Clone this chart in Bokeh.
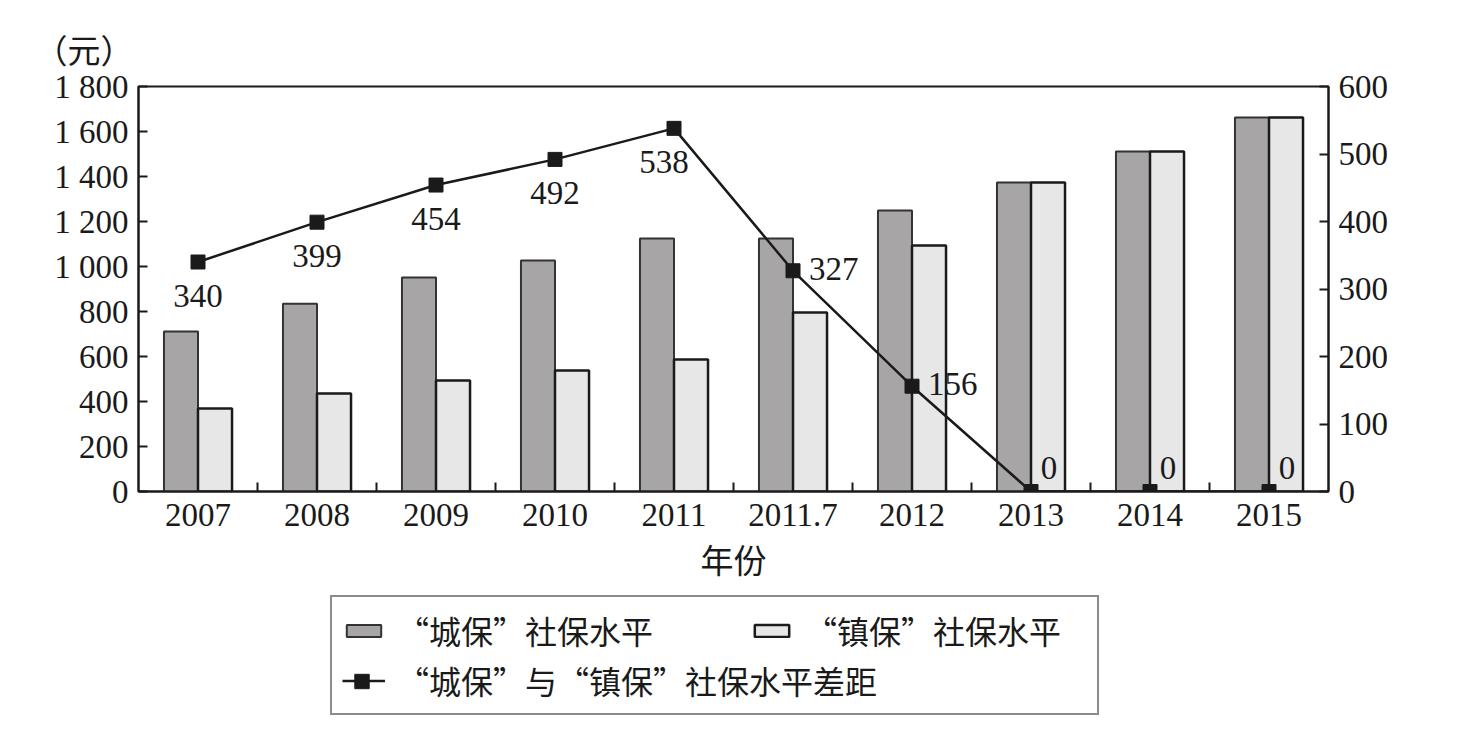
from bokeh.plotting import figure
from bokeh.layouts import column
from bokeh.models import (ColumnDataSource, Range1d, LinearAxis, FixedTicker,
                          Legend, LegendItem, Title)
from bokeh.transform import dodge
from bokeh.core.properties import value
from bokeh.embed import file_html
from bokeh.resources import INLINE

# ---------------- data ----------------
years = ["2007", "2008", "2009", "2010", "2011", "2011.7", "2012", "2013", "2014", "2015"]
chengbao = [711, 835, 951, 1027, 1124, 1124, 1249, 1373, 1511, 1662]   # “城保”社保水平 (元)
zhenbao = [369, 436, 493, 538, 587, 796, 1093, 1373, 1511, 1662]      # “镇保”社保水平 (元)
gap = [340, 399, 454, 492, 538, 327, 156, 0, 0, 0]                    # 差距 (元)
left_ticks = [0, 200, 400, 600, 800, 1000, 1200, 1400, 1600, 1800]
left_tick_labels = ["0", "200", "400", "600", "800", "1 000", "1 200", "1 400", "1 600", "1 800"]
right_ticks = [0, 100, 200, 300, 400, 500, 600]
label_place = ["below"] * 4 + ["below_left"] + ["right"] * 2 + ["upright"] * 3
legend_labels = ["“城保”社保水平", "“镇保”社保水平", "“城保”与“镇保”社保水平差距"]

# ---------------- style ----------------
NUM = "Liberation Serif"
CJK = "Noto Sans CJK SC"
DARK = "#a7a5a6"
LIGHT = "#e7e7e7"
INK = "#1a1a1a"
bar_a = dict(fill_color=DARK, line_color="#333333", line_width=2)
bar_b = dict(fill_color=LIGHT, line_color=INK, line_width=2.5)
line_s = dict(line_color=INK, line_width=2.5)
mark_s = dict(marker="square", size=14, fill_color=INK, line_color=INK)

idx = list(range(len(years)))
place_style = {"below": (0, 34, "center"), "below_left": (-10, 34, "center"),
               "right": (16, -2, "left"), "upright": (18, -24, "center")}
src = ColumnDataSource(dict(
    idx=idx, cheng=chengbao, zhen=zhenbao, gap=gap,
    txt=[str(v) for v in gap],
    dx=[place_style[k][0] for k in label_place],
    dy=[place_style[k][1] for k in label_place],
    al=[place_style[k][2] for k in label_place],
))

p = figure(width=1470, height=585, x_range=Range1d(-0.5, len(years) - 0.5),
           y_range=Range1d(0, 1800), output_backend="svg", toolbar_location=None,
           min_border_left=138, min_border_right=142, min_border_top=86,
           min_border_bottom=89)
p.extra_y_ranges = {"gap": Range1d(0, 600)}
p.xgrid.visible = False
p.ygrid.visible = False
p.outline_line_color = INK
p.outline_line_width = 2
p.background_fill_color = "white"
p.border_fill_color = "white"

bw = 0.286
p.vbar(x=dodge("idx", -bw / 2), top="cheng", width=bw, source=src, **bar_a)
p.vbar(x=dodge("idx", bw / 2), top="zhen", width=bw, source=src, **bar_b)
p.line(x="idx", y="gap", source=src, y_range_name="gap", **line_s)
p.scatter(x="idx", y="gap", source=src, y_range_name="gap", **mark_s)
p.text(x="idx", y="gap", text="txt", source=src, y_range_name="gap",
       x_offset="dx", y_offset="dy", text_align="al", text_baseline="middle",
       text_font=value(NUM), text_font_size="33px", text_color=INK)

# x axis
xa = p.xaxis[0]
xa.ticker = FixedTicker(ticks=idx, minor_ticks=[i + 0.5 for i in idx[:-1]])
xa.major_label_overrides = {i: y for i, y in zip(idx, years)}
xa.major_tick_in = 0
xa.major_tick_out = 0
xa.minor_tick_in = 9
xa.minor_tick_out = 0
xa.minor_tick_line_color = INK
xa.minor_tick_line_width = 2
xa.axis_line_color = INK
xa.axis_line_width = 2
xa.major_label_text_font = NUM
xa.major_label_text_font_size = "33px"
xa.major_label_text_color = INK
xa.major_label_standoff = 12
xa.axis_label = "年份"
xa.axis_label_text_font = CJK
xa.axis_label_text_font_size = "33px"
xa.axis_label_text_font_style = "normal"
xa.axis_label_text_color = INK
xa.axis_label_standoff = 6

# left / right axes
ya = p.yaxis[0]
ya.ticker = FixedTicker(ticks=left_ticks, minor_ticks=[])
ya.major_label_overrides = {t: l for t, l in zip(left_ticks, left_tick_labels)}
ra = LinearAxis(y_range_name="gap", ticker=FixedTicker(ticks=right_ticks, minor_ticks=[]))
p.add_layout(ra, "right")
for ax in (ya, ra):
    ax.major_tick_in = 9
    ax.major_tick_out = 0
    ax.minor_tick_in = 0
    ax.minor_tick_out = 0
    ax.major_tick_line_color = INK
    ax.major_tick_line_width = 2
    ax.axis_line_color = INK
    ax.axis_line_width = 2
    ax.major_label_text_font = NUM
    ax.major_label_text_font_size = "33px"
    ax.major_label_text_color = INK
    ax.major_label_standoff = 10

# unit title
p.add_layout(Title(text="（元）", align="left", offset=-104, standoff=27,
                   text_font=CJK, text_font_size="33px", text_font_style="normal",
                   text_color=INK), "above")

# ---------------- legend strip (own figure; its series renderers are hidden) ----------------
q = figure(width=1470, height=151, x_range=Range1d(-3, -2), y_range=Range1d(-3, -2),
           output_backend="svg", toolbar_location=None, x_axis_location=None,
           y_axis_location=None, min_border=0, outline_line_color=None)
q.xgrid.visible = False
q.ygrid.visible = False
s_a = q.vbar(x=dodge("idx", -bw / 2), top="cheng", width=bw, source=src, visible=False, **bar_a)
s_b = q.vbar(x=dodge("idx", bw / 2), top="zhen", width=bw, source=src, visible=False, **bar_b)
s_l = q.line(x="idx", y="gap", source=src, visible=False, **line_s)
s_m = q.scatter(x="idx", y="gap", source=src, visible=False, **mark_s)

common = dict(glyph_width=43, glyph_height=15, label_standoff=12, padding=10, margin=0,
              spacing=4, label_height=36, label_text_font=CJK,
              label_text_font_size="32px", label_text_color=INK,
              inactive_fill_alpha=0)
leg1 = Legend(items=[LegendItem(label=legend_labels[0], renderers=[s_a]),
                     LegendItem(label=legend_labels[2], renderers=[s_l])],
              location=(192, 21), orientation="vertical", label_width=690,
              border_line_color=INK, border_line_width=2, background_fill_color="white",
              background_fill_alpha=1, **common)
leg2 = Legend(items=[LegendItem(label=legend_labels[1], renderers=[s_b])],
              location=(602, 73), orientation="vertical",
              border_line_alpha=0, background_fill_alpha=0, **common)
# square marker of the gap series, overlaid on its legend line at full size
leg3 = Legend(items=[LegendItem(label=" ", renderers=[s_m])],
              location=(202, 37), orientation="vertical", glyph_width=43, glyph_height=36,
              label_standoff=0, padding=0, margin=0, label_height=36,
              label_text_font_size="1px", border_line_alpha=0, background_fill_alpha=0,
              inactive_fill_alpha=0)
q.add_layout(leg1)
q.add_layout(leg2)
q.add_layout(leg3)

open("out.html", "w").write(file_html(column(p, q, spacing=0), INLINE))
